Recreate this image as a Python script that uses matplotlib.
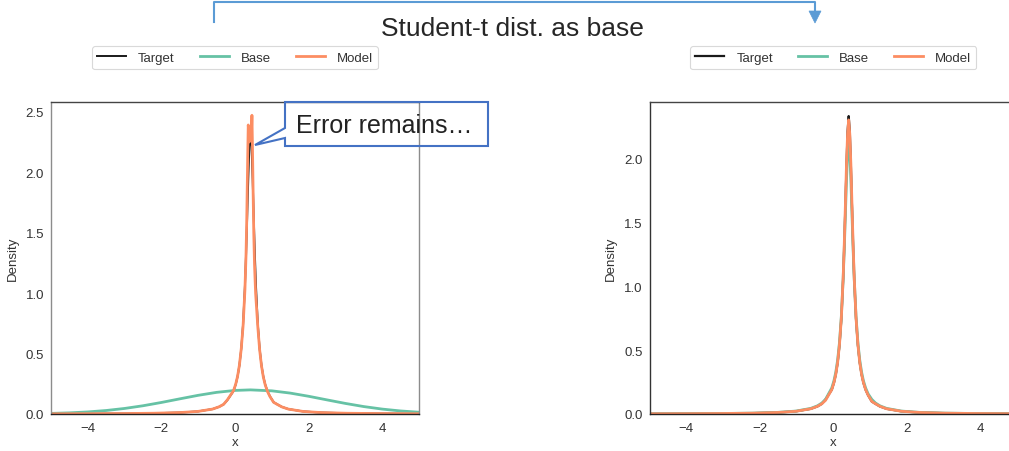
import matplotlib
matplotlib.use("Agg")
import matplotlib.pyplot as plt
from matplotlib.lines import Line2D
from matplotlib.patches import Polygon

plt.rcParams["font.family"] = ["Liberation Sans", "DejaVu Sans"]

W, H = 1009, 452

# density curves, peak near x = 0.42
target_x = [-5.0, -4.01, -3.01, -2.21, -1.51, -1.01, -0.61, -0.43, -0.31, -0.21,
            -0.04, 0.02, 0.07, 0.12, 0.17, 0.22, 0.27, 0.30, 0.33, 0.36, 0.39,
            0.42, 0.45, 0.48, 0.51, 0.54, 0.57, 0.62, 0.67, 0.72, 0.77, 0.82,
            0.88, 0.95, 1.05, 1.15, 1.27, 1.45, 1.85, 2.35, 3.05, 3.85, 4.85, 5.0]
target_y = [0.0015, 0.0022, 0.0037, 0.0063, 0.0117, 0.0213, 0.0407, 0.0596,
            0.0796, 0.114, 0.190, 0.245, 0.310, 0.402, 0.539, 0.744, 1.058,
            1.313, 1.618, 1.940, 2.210, 2.330, 2.210, 1.940, 1.618, 1.313,
            1.058, 0.744, 0.539, 0.402, 0.310, 0.245, 0.190, 0.146, 0.0976,
            0.0796, 0.0593, 0.0407, 0.0213, 0.0117, 0.0063, 0.0037, 0.0022,
            0.0021]

model_left_x = [-5.0, -4.01, -3.01, -2.21, -1.51, -1.01, -0.61, -0.43, -0.31,
                -0.21, -0.04, 0.02, 0.07, 0.12, 0.17, 0.22, 0.27, 0.30, 0.32,
                0.34, 0.36, 0.375, 0.39, 0.405, 0.42, 0.435, 0.45, 0.46, 0.475,
                0.49, 0.51, 0.53, 0.56, 0.62, 0.67, 0.72, 0.77, 0.82, 0.88,
                0.95, 1.05, 1.15, 1.27, 1.45, 1.85, 2.35, 3.05, 3.85, 4.85, 5.0]
model_left_y = [0.0015, 0.0022, 0.0037, 0.0063, 0.0117, 0.0213, 0.0407, 0.0600,
                0.0800, 0.116, 0.193, 0.248, 0.312, 0.405, 0.540, 0.730, 1.030,
                1.320, 1.620, 2.020, 2.390, 2.330, 2.250, 2.290, 2.330, 2.280,
                2.360, 2.470, 2.200, 1.880, 1.500, 1.240, 1.000, 0.720, 0.530,
                0.398, 0.305, 0.242, 0.188, 0.144, 0.0965, 0.0790, 0.0590,
                0.0405, 0.0212, 0.0116, 0.0062, 0.0037, 0.0022, 0.0021]

base_left_x = [-5.0, -4.5, -4.0, -3.5, -3.0, -2.5, -2.0, -1.5, -1.0, -0.5, 0.0,
               0.42, 1.0, 1.5, 2.0, 2.5, 3.0, 3.5, 4.0, 4.5, 5.0]
base_left_y = [0.0050, 0.0095, 0.0172, 0.0289, 0.0459, 0.0682, 0.0954, 0.1253,
               0.1545, 0.1790, 0.1949, 0.1995, 0.1916, 0.1729, 0.1466, 0.1167,
               0.0874, 0.0614, 0.0406, 0.0251, 0.0147]

base_right_y = [0.0016, 0.0024, 0.0040, 0.0069, 0.0127, 0.0231, 0.0440,
                0.0640, 0.0859, 0.114, 0.204, 0.261, 0.329, 0.424, 0.561,
                0.763, 1.060, 1.293, 1.559, 1.828, 2.038, 2.120, 2.038, 1.828,
                1.559, 1.293, 1.060, 0.763, 0.561, 0.424, 0.329, 0.261, 0.204,
                0.157, 0.114, 0.0859, 0.0640, 0.0440, 0.0231, 0.0127, 0.0069,
                0.0040, 0.0024, 0.0023]

model_right_y = [0.0015, 0.0022, 0.0038, 0.0064, 0.0118, 0.0215, 0.0410,
                 0.0600, 0.0800, 0.107, 0.191, 0.247, 0.312, 0.405, 0.545,
                 0.750, 1.070, 1.330, 1.630, 1.950, 2.190, 2.300, 2.190, 1.950,
                 1.630, 1.330, 1.070, 0.750, 0.545, 0.405, 0.312, 0.247, 0.191,
                 0.147, 0.0985, 0.0800, 0.0600, 0.0410, 0.0215, 0.0118, 0.0064,
                 0.0038, 0.0022, 0.0021]

labels = ["Target", "Base", "Model"]
colors = ["#1a1a1a", "#66c2a5", "#fc8d62"]
xticks = [-4, -2, 0, 2, 4]


def px(x, y):
    return x / W, 1 - y / H


def style_axes(ax, yticks, ylim, spine_colors):
    ax.set_xlim(-5, 5)
    ax.set_ylim(0, ylim)
    ax.set_xticks(xticks)
    ax.set_yticks(yticks)
    ax.tick_params(length=0, labelsize=9.5, colors="#333333")
    ax.tick_params(axis="x", pad=6)
    ax.tick_params(axis="y", pad=5)
    ax.set_xlabel("x", fontsize=9.5, color="#333333", labelpad=1)
    ax.set_ylabel("Density", fontsize=9.5, color="#333333", labelpad=5)
    for side, c in spine_colors.items():
        ax.spines[side].set_color(c)
        ax.spines[side].set_linewidth(1.0)
    leg = ax.legend(loc="lower center", bbox_to_anchor=(0.5, 1.105), ncol=3,
                    fontsize=9.5, frameon=True, handlelength=2.2,
                    columnspacing=1.9, borderaxespad=0, handletextpad=0.9,
                    borderpad=0.4)
    leg.get_frame().set_edgecolor("#d0d0d0")
    leg.get_frame().set_linewidth(0.8)
    for t in leg.get_texts():
        t.set_color("#333333")


fig = plt.figure(figsize=(W / 100, H / 100), dpi=100)
ax1 = fig.add_axes([51 / W, 37 / H, 368 / W, 312 / H])
ax2 = fig.add_axes([649.5 / W, 37 / H, 367.5 / W, 312 / H])

ax1.plot(target_x, target_y, color=colors[0], lw=1.4, label=labels[0])
ax1.plot(base_left_x, base_left_y, color=colors[1], lw=2.0, label=labels[1])
ax1.plot(model_left_x, model_left_y, color=colors[2], lw=2.0, label=labels[2])
style_axes(ax1, [0.0, 0.5, 1.0, 1.5, 2.0, 2.5], 2.58,
           {"left": "#8c8c8c", "right": "#8c8c8c", "top": "#444444",
            "bottom": "#222222"})

ax2.plot(target_x, target_y, color=colors[0], lw=1.6, label=labels[0])
ax2.plot(target_x, base_right_y, color=colors[1], lw=2.0, label=labels[1])
ax2.plot(target_x, model_right_y, color=colors[2], lw=2.0, label=labels[2])
style_axes(ax2, [0.0, 0.5, 1.0, 1.5, 2.0], 2.44,
           {"left": "#333333", "right": "#333333", "top": "#444444",
            "bottom": "#222222"})

# heading with the bracket arrow above it
fig.text(*px(512, 29), "Student-t dist. as base", ha="center", va="center",
         fontsize=19, color="#262626")
blue = "#5b9bd5"
fig.add_artist(Line2D(*zip(px(214, 23), px(214, 3), px(815, 3), px(815, 12)),
                      transform=fig.transFigure, color=blue, lw=1.5))
fig.add_artist(Polygon([px(809, 12), px(821, 12), px(815, 24)], closed=True,
                       transform=fig.transFigure, facecolor=blue,
                       edgecolor=blue, lw=0.5))

# callout on the left peak
callout = [px(285, 103), px(488, 103), px(488, 147), px(285, 147),
           px(285, 139), px(255, 146), px(285, 129)]
fig.add_artist(Polygon(callout, closed=True, transform=fig.transFigure,
                       facecolor="none", edgecolor="#4472c4", lw=1.5))
fig.text(*px(296, 126), "Error remains…", ha="left", va="center",
         fontsize=18, color="#222222")

fig.savefig("out.png", dpi=100)
